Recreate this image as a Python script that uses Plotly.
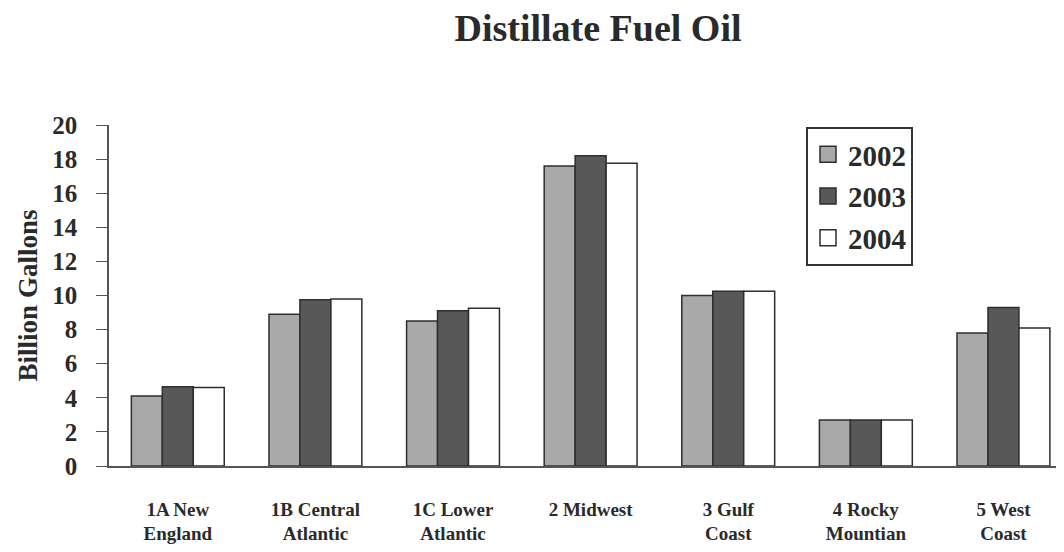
import plotly.graph_objects as go

categories = ["1A New<br>England", "1B Central<br>Atlantic", "1C Lower<br>Atlantic", "2 Midwest",
              "3 Gulf<br>Coast", "4 Rocky<br>Mountian", "5 West<br>Coast"]
v2002 = [4.1, 8.9, 8.5, 17.6, 10.0, 2.7, 7.8]
v2003 = [4.65, 9.75, 9.1, 18.2, 10.25, 2.7, 9.3]
v2004 = [4.6, 9.8, 9.25, 17.75, 10.25, 2.7, 8.1]
years = ["2002", "2003", "2004"]
colors = ["#a9a9a9", "#585858", "#ffffff"]
yticks = list(range(0, 21, 2))

FONT = "Liberation Serif, Times New Roman, serif"
TXT = "#2a2a2a"
EDGE = "#2e2e2e"
W, H = 1056, 544
L, T, B = 101, 117, 86
fig = go.Figure()
for name, vals, col in zip(years, [v2002, v2003, v2004], colors):
    fig.add_trace(go.Bar(
        x=list(range(len(categories))), y=vals, name=name, showlegend=False,
        marker=dict(color=col, line=dict(color=EDGE, width=1.5)),
    ))
for name, col in zip(years, colors):
    fig.add_trace(go.Scatter(
        x=[None], y=[None], mode="markers", name="<b>" + name + "</b>", legendgroup=name,
        marker=dict(symbol="square", size=16, color=col, line=dict(color=EDGE, width=1.5)),
    ))

pw = W - L
ph = H - T - B
fig.update_layout(
    width=W, height=H,
    paper_bgcolor="white", plot_bgcolor="white",
    margin=dict(l=L, r=0, t=T, b=B),
    barmode="group", bargap=0.325, bargroupgap=0,
    title=dict(text="<b>Distillate Fuel Oil</b>", x=590 / W, xanchor="center",
               y=1, yanchor="top", pad=dict(t=6),
               font=dict(family=FONT, size=38, color=TXT)),
    font=dict(family=FONT, color=TXT),
    legend=dict(x=(798 - L) / pw, y=(T + ph - 119) / ph, xanchor="left", yanchor="top",
                bgcolor="white", bordercolor="#333333", borderwidth=2,
                font=dict(family=FONT, size=29, color=TXT),
                tracegroupgap=1, itemwidth=30),
    showlegend=True,
)
fig.update_xaxes(
    range=[-0.5, 6.44], tickmode="array", tickvals=list(range(len(categories))),
    ticktext=["<b>" + c.replace("<br>", "</b><br><b>") + "</b>" for c in categories],
    tickfont=dict(family=FONT, size=19, color=TXT),
    showline=True, linecolor="#555555", linewidth=1.5, ticks="", showgrid=False,
    ticklabelstandoff=25, automargin=False,
)
fig.update_yaxes(
    range=[0, 20], tickmode="array", tickvals=yticks,
    ticktext=["<b>%d</b>" % v for v in yticks],
    tickfont=dict(family=FONT, size=25, color=TXT),
    showline=True, linecolor="#555555", linewidth=1.5, ticks="outside", ticklen=11,
    tickcolor="#555555", showgrid=False, zeroline=False, ticklabelstandoff=14,
    automargin=False,
    title=dict(text="<b>Billion Gallons</b>", font=dict(family=FONT, size=27, color=TXT), standoff=7),
)
fig.write_html("out.html")
